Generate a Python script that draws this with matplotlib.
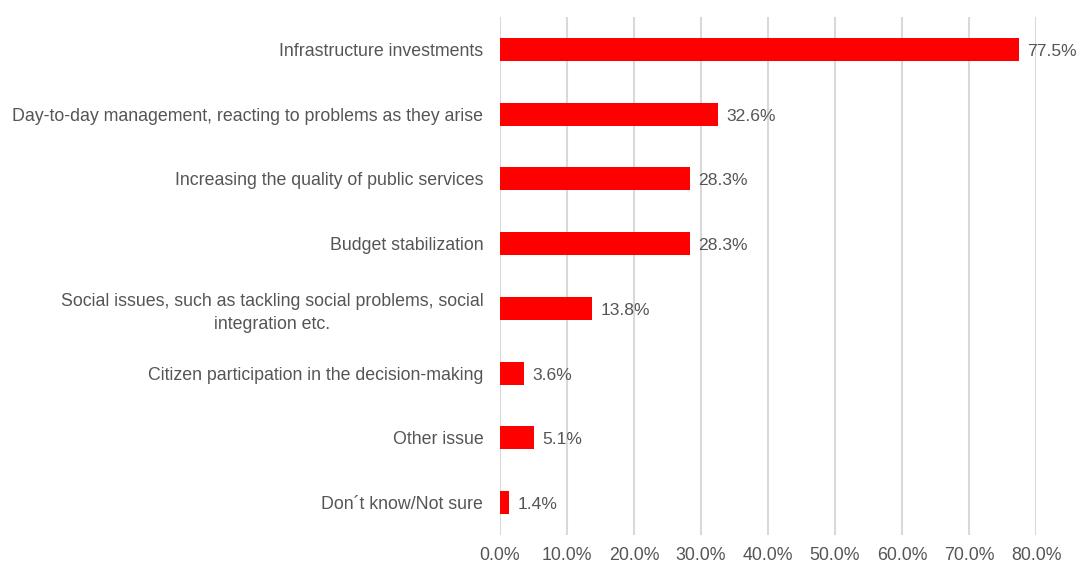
import matplotlib.pyplot as plt
from matplotlib.ticker import FuncFormatter

# data
categories = [
    'Infrastructure investments',
    'Day-to-day management, reacting to problems as they arise',
    'Increasing the quality of public services',
    'Budget stabilization',
    'Social issues, such as tackling social problems, social\nintegration etc.',
    'Citizen participation in the decision-making',
    'Other issue',
    'Don\u00b4t know/Not sure',
]
values = [77.5, 32.6, 28.3, 28.3, 13.8, 3.6, 5.1, 1.4]
x_ticks = [0, 10, 20, 30, 40, 50, 60, 70, 80]

plt.rcParams['font.family'] = ['Liberation Sans', 'DejaVu Sans']
text_color = '#555555'

fig = plt.figure(figsize=(10.77, 5.64), dpi=100)
ax = fig.add_axes([500 / 1077, 29 / 564, 536 / 1077, 518 / 564])

y = list(range(len(categories)))
ax.barh(y, values, height=0.355, color='#ff0000', zorder=2)

# label nilai di ujung bar
for yi, v in zip(y, values):
    ax.text(v + 1.2, yi + 0.03, f'{v:.1f}%', va='center', ha='left',
            fontsize=12.6, color=text_color, clip_on=False)

ax.set_xlim(0, 80)
ax.set_ylim(len(categories) - 0.5, -0.5)
ax.set_xticks(x_ticks)
ax.xaxis.set_major_formatter(FuncFormatter(lambda v, p: f'{v:.1f}%'))
ax.set_yticks(y)
ax.set_yticklabels(categories, multialignment='center', linespacing=1.45)

ax.tick_params(axis='x', length=0, pad=9, labelsize=12.8, labelcolor=text_color)
ax.tick_params(axis='y', length=0, pad=12, labelsize=12.8, labelcolor=text_color)

ax.grid(axis='x', color='#d9d9d9', linewidth=1.5, zorder=0)
ax.set_axisbelow(True)
for s in ax.spines.values():
    s.set_visible(False)

fig.savefig('out.png', dpi=100)
